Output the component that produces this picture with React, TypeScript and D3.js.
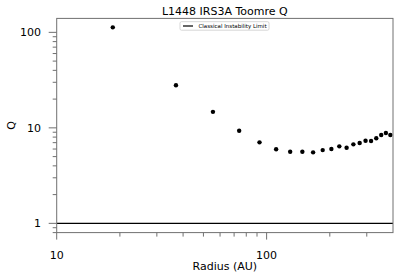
import React from "react";
import * as d3 from "d3";

const radius = [18.5, 37, 55.5, 74, 92.5, 111, 129.5, 148, 166.5, 185, 203.5, 222, 240.5, 259, 277.5, 296, 314.5, 333, 351.5, 370, 388.5];
const toomreQ = [112.8, 27.9, 14.7, 9.32, 7.05, 5.96, 5.62, 5.62, 5.54, 5.85, 6.0, 6.4, 6.19, 6.72, 6.93, 7.33, 7.27, 7.77, 8.41, 8.82, 8.41];
const xMajor = [10, 100];
const xMinor = [20, 30, 40, 50, 60, 70, 80, 90, 200, 300];
const yMajor = [1, 10, 100];
const yMinor = [0.8, 0.9, 2, 3, 4, 5, 6, 7, 8, 9, 20, 30, 40, 50, 60, 70, 80, 90];
const limitQ = 1;
const title = "L1448 IRS3A Toomre Q";
const legendLabel = "Classical Instability Limit";

export default function App() {
  const W = 399, H = 279;
  const L = 56.7, R = 393, T = 18.4, B = 232.6;
  const x = d3.scaleLog().domain([10, 400]).range([L, R]);
  const y = d3.scaleLog().domain([0.8, 140]).range([B, T]);
  const axisColor = "#707070";
  const font = "DejaVu Sans, sans-serif";
  return (
    <svg width={W} height={H} style={{ position: "absolute", left: 0, top: 0, background: "#fff" }} fontFamily={font}>
      <defs>
        <clipPath id="plot">
          <rect x={L} y={T} width={R - L} height={B - T} />
        </clipPath>
      </defs>
      <rect x={0} y={0} width={W} height={H} fill="#fff" />
      <text x={(L + R) / 2} y={15} fontSize={11} textAnchor="middle" fill="#000">{title}</text>
      <g clipPath="url(#plot)">
        <line x1={L} x2={R} y1={y(limitQ)} y2={y(limitQ)} stroke="#000" strokeWidth={1.3} />
        {radius.map((r, i) => (
          <circle key={i} cx={x(r)} cy={y(toomreQ[i])} r={2.2} fill="#000" />
        ))}
      </g>
      <rect x={L} y={T} width={R - L} height={B - T} fill="none" stroke={axisColor} strokeWidth={1} />
      {xMajor.map((v) => (
        <g key={"xM" + v}>
          <line x1={x(v)} x2={x(v)} y1={B} y2={B + 7} stroke={axisColor} />
          <text x={x(v)} y={259} fontSize={11} textAnchor="middle" fill="#000">{v}</text>
        </g>
      ))}
      {xMinor.map((v) => (
        <line key={"xm" + v} x1={x(v)} x2={x(v)} y1={B} y2={B + 4} stroke={axisColor} />
      ))}
      {yMajor.map((v) => (
        <g key={"yM" + v}>
          <line x1={L - 8} x2={L} y1={y(v)} y2={y(v)} stroke={axisColor} />
          <text x={41} y={y(v) + 4} fontSize={11} textAnchor="end" fill="#000">{v}</text>
        </g>
      ))}
      {yMinor.map((v) => (
        <line key={"ym" + v} x1={L - 4} x2={L} y1={y(v)} y2={y(v)} stroke={axisColor} />
      ))}
      <text x={(L + R) / 2} y={270} fontSize={11} textAnchor="middle" fill="#000">Radius (AU)</text>
      <text transform={`translate(14.5,${(T + B) / 2}) rotate(-90)`} fontSize={11} textAnchor="middle" fill="#000">Q</text>
      <g>
        <rect x={180} y={21.7} width={89} height={8.5} rx={1.5} fill="#fff" stroke="#cccccc" strokeWidth={0.8} />
        <line x1={183} x2={193} y1={26} y2={26} stroke="#000" strokeWidth={1.2} />
        <text x={198.5} y={28} fontSize={5.5} fill="#000">{legendLabel}</text>
      </g>
    </svg>
  );
}
